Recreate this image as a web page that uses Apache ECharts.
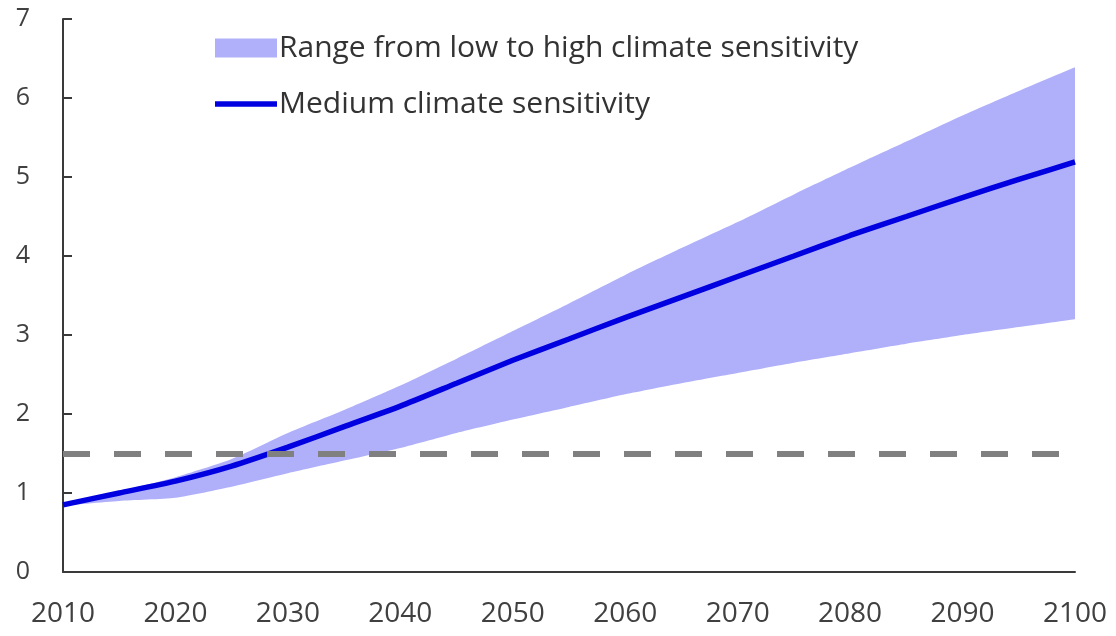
<!DOCTYPE html>
<html>
<head>
<meta charset="utf-8">
<script src="https://cdn.jsdelivr.net/npm/echarts@6/dist/echarts.min.js"></script>
<style>
  html, body { margin: 0; padding: 0; background: #ffffff; }
  #chart { width: 1116px; height: 636px; }
</style>
</head>
<body>
<div id="chart"></div>
<script>
const years = ['2010','2015','2020','2025','2030','2035','2040','2045','2050','2055','2060','2065','2070','2075','2080','2085','2090','2095','2100'];
const medium = [0.85, 1.00, 1.15, 1.34, 1.58, 1.84, 2.10, 2.39, 2.68, 2.95, 3.22, 3.48, 3.74, 4.00, 4.26, 4.50, 4.74, 4.97, 5.19];
const upper  = [0.86, 1.02, 1.20, 1.43, 1.76, 2.05, 2.36, 2.70, 3.05, 3.40, 3.76, 4.10, 4.43, 4.78, 5.12, 5.45, 5.78, 6.09, 6.39];
const lower  = [0.84, 0.90, 0.94, 1.08, 1.25, 1.41, 1.57, 1.76, 1.93, 2.09, 2.25, 2.39, 2.52, 2.65, 2.77, 2.89, 3.00, 3.10, 3.20];
const threshold = 1.5;
const yTicks = [0, 1, 2, 3, 4, 5, 6, 7];

const bandName = 'Range from low to high climate sensitivity';
const lineName = 'Medium climate sensitivity';
const bandWidth = upper.map((u, i) => +(u - lower[i]).toFixed(3));

const FONT = '"Open Sans", "Noto Sans", sans-serif';
const chart = echarts.init(document.getElementById('chart'), null, { renderer: 'canvas' });
chart.setOption({
  animation: false,
  backgroundColor: '#ffffff',
  grid: { left: 63, right: 41, top: 19, bottom: 64, containLabel: false, outerBoundsMode: 'none' },
  legend: {
    orient: 'vertical',
    left: 210,
    top: 28,
    itemWidth: 62,
    itemHeight: 19,
    itemGap: 26,
    textStyle: { fontFamily: FONT, fontSize: 30, color: '#333333', padding: [0, 0, 0, -3] },
    data: [
      { name: bandName, icon: 'rect' },
      { name: lineName, icon: 'path://M0,0 L66,0 L66,6 L0,6 Z' }
    ]
  },
  xAxis: {
    type: 'category',
    data: years,
    boundaryGap: false,
    axisLine: { show: true, lineStyle: { color: '#3a3a3a', width: 2 } },
    axisTick: { show: false },
    axisLabel: { interval: 1, margin: 28, fontFamily: FONT, fontSize: 28, color: '#404040' },
    splitLine: { show: false }
  },
  yAxis: {
    type: 'value',
    min: yTicks[0],
    max: yTicks[yTicks.length - 1],
    interval: 1,
    axisLine: { show: true, lineStyle: { color: '#3a3a3a', width: 2 } },
    axisTick: { show: true, inside: true, length: 9, lineStyle: { color: '#3a3a3a', width: 2 } },
    axisLabel: { margin: 33, fontFamily: FONT, fontSize: 25, color: '#404040' },
    splitLine: { show: false }
  },
  series: [
    {
      name: 'low',
      type: 'line',
      stack: 'band',
      data: lower,
      symbol: 'none',
      smooth: 0.2,
      silent: true,
      lineStyle: { width: 0, opacity: 0 },
      z: 1
    },
    {
      name: bandName,
      type: 'line',
      stack: 'band',
      data: bandWidth,
      symbol: 'none',
      smooth: 0.2,
      silent: true,
      itemStyle: { color: '#b0b0fa' },
      lineStyle: { width: 0, opacity: 0 },
      areaStyle: { color: '#b0b0fa', opacity: 1 },
      z: 1
    },
    {
      name: lineName,
      type: 'line',
      data: medium,
      symbol: 'none',
      smooth: 0.2,
      itemStyle: { color: '#0000e0' },
      lineStyle: { color: '#0000e0', width: 5.5 },
      z: 2,
      markLine: {
        silent: true,
        symbol: ['none', 'none'],
        label: { show: false },
        lineStyle: { color: '#808080', width: 6, type: [27, 24] },
        data: [{ yAxis: threshold }],
        z: 3
      }
    }
  ]
});
</script>
</body>
</html>
